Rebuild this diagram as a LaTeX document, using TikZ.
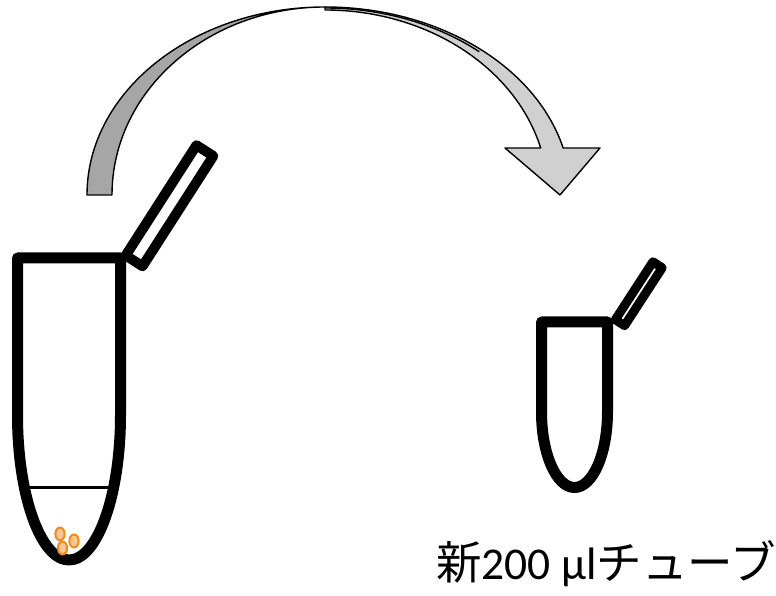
\documentclass[tikz,border=0pt]{standalone}
\usepackage{fontspec}
\setmainfont{Carlito}
\newfontfamily\cjk{Noto Sans CJK JP}
\definecolor{backgrey}{RGB}{166,166,166}
\definecolor{frontgrey}{RGB}{208,208,208}
\definecolor{cellline}{RGB}{240,140,20}
\definecolor{cellfill}{RGB}{250,200,150}
\tikzset{
  tubewall/.style={draw=black, line width=11pt, line join=round},
  capwall/.style={draw=black, line width=10pt, line join=round, fill=white},
  bendarrow/.style={draw=black, line width=1.4pt, line join=round},
  cell/.style={draw=cellline, fill=cellfill, line width=2pt},
  caption/.style={font=\fontsize{45.5}{52}\selectfont, inner sep=0pt, anchor=base west}
}
\begin{document}
\begin{tikzpicture}[x=1pt, y=1pt]
\useasboundingbox (0,0) rectangle (776,596);

% curved transfer arrow: darker back crescent, lighter front band with head
\path[bendarrow, fill=backgrey]
  (87,401) arc[start angle=180, end angle=90, x radius=238, y radius=188]
  arc[start angle=90, end angle=180, x radius=213, y radius=188] -- cycle;
\path[bendarrow, fill=frontgrey]
  (325,589) arc[start angle=90, end angle=14.48, x radius=246, y radius=188]
  -- (600,448) -- (560,401) -- (505,448) -- (540.7,448)
  arc[start angle=14.72, end angle=90, x radius=223, y radius=185] -- cycle;
\draw[line width=1.4pt]
  (325,588) arc[start angle=90, end angle=50, x radius=240, y radius=187];

% large tube with open lid
\draw[tubewall] (17.5,338) -- (17.5,181)
  arc[start angle=180, end angle=360, x radius=51.5, y radius=145]
  -- (120.5,338) -- cycle;
\draw[line width=3pt] (30,108) -- (108,108);
\begin{scope}[shift={(169.5,390.25)}, rotate=57.3]
  \draw[capwall] (-65.5,-10) rectangle (65.5,10);
\end{scope}

% pellet of cells at the tip
\draw[cell] (60,62) ellipse[x radius=4.6, y radius=6.5];
\draw[cell] (74,55) ellipse[x radius=4.6, y radius=6.5];
\draw[cell] (62.5,48) ellipse[x radius=4.6, y radius=6.5];

% new small tube with open lid
\draw[tubewall] (541.5,274) -- (541.5,184)
  arc[start angle=180, end angle=360, x radius=33, y radius=75.5]
  -- (607.5,274) -- cycle;
\begin{scope}[shift={(638.75,302.25)}, rotate=57]
  \draw[capwall, line width=9pt] (-34.5,-5.5) rectangle (34.5,5.5);
\end{scope}

\node[caption] (label) at (436,16) {{\cjk 新}200 μl{\cjk チューブ}};
\end{tikzpicture}
\end{document}
